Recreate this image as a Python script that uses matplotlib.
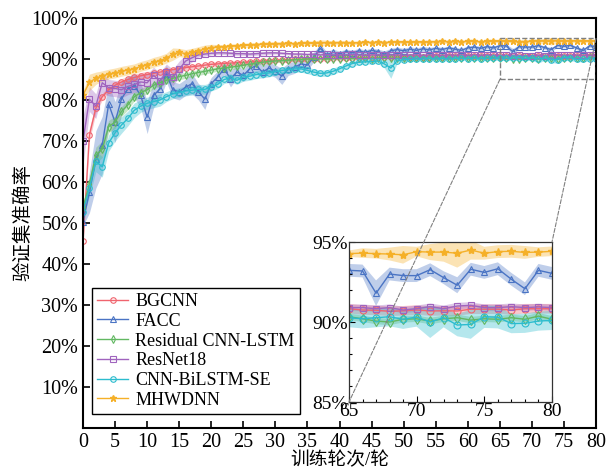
import numpy as np
import matplotlib
matplotlib.use('Agg')
import matplotlib.pyplot as plt
from matplotlib.patches import Rectangle, ConnectionPatch

plt.rcParams['font.family'] = ['Liberation Serif', 'Noto Sans CJK SC']
plt.rcParams['mathtext.fontset'] = 'stix'

epochs = np.arange(0, 81)

names = ['BGCNN', 'FACC', 'Residual CNN-LSTM', 'ResNet18', 'CNN-BiLSTM-SE', 'MHWDNN']

bgcnn = [45.5, 71.5, 78.0, 80.8, 82.5, 83.6, 84.4, 85.0, 85.5, 85.9,
         86.2, 86.5, 86.8, 87.1, 87.4, 87.6, 87.9, 88.1, 88.3, 88.5,
         88.7, 88.8, 88.9, 89.0, 89.1, 89.2, 89.3, 89.4, 89.5, 89.6,
         89.7, 89.7, 89.8, 89.9, 89.9, 90.0, 90.0, 90.1, 90.1, 90.2,
         90.2, 90.3, 90.3, 90.3, 90.4, 90.4, 90.4, 90.5, 90.5, 90.5,
         90.6, 90.5, 90.6, 90.6, 90.6, 90.7, 90.6, 90.7, 90.7, 90.7,
         90.7, 90.8, 90.7, 90.8, 90.8, 90.83, 90.75, 90.73, 90.67, 90.7,
         90.75, 90.69, 90.7, 90.69, 90.8, 90.8, 90.8, 90.75, 90.83, 90.83, 90.83]
bgcnn_sd = [1.0, 1.5, 1.2, 0.8, 0.8, 0.8, 0.8, 0.8, 0.8, 0.8,
            0.8, 0.5, 0.5, 0.5, 0.5, 0.5, 0.5, 0.5, 0.5, 0.5,
            0.5, 0.5, 0.5, 0.5, 0.5, 0.5, 0.5, 0.5, 0.5, 0.5,
            0.4, 0.4, 0.4, 0.4, 0.4, 0.3, 0.3, 0.3, 0.3, 0.3,
            0.3, 0.3, 0.3, 0.3, 0.3, 0.3, 0.3, 0.3, 0.3, 0.3,
            0.3, 0.3, 0.3, 0.3, 0.3, 0.3, 0.3, 0.3, 0.3, 0.3,
            0.3, 0.3, 0.3, 0.3, 0.3, 0.3, 0.3, 0.3, 0.3, 0.3,
            0.3, 0.3, 0.3, 0.3, 0.3, 0.3, 0.3, 0.3, 0.3, 0.3, 0.3]

facc = [50.3, 57.5, 65.5, 69.0, 79.0, 74.6, 80.3, 82.7, 83.5, 81.1,
        75.8, 81.1, 82.7, 86.4, 82.5, 82.0, 83.1, 84.0, 82.0, 80.2,
        84.0, 85.6, 87.6, 85.2, 86.8, 86.0, 87.6, 88.4, 86.8, 87.8,
        87.0, 85.8, 87.5, 88.0, 88.8, 88.5, 90.5, 92.6, 91.0, 91.6,
        91.3, 91.8, 91.5, 92.0, 91.6, 92.1, 91.8, 91.2, 92.0, 92.3,
        92.0, 92.4, 92.1, 92.5, 92.2, 92.6, 92.3, 92.7, 92.4, 92.1,
        92.7, 92.9, 92.6, 93.0, 92.7, 93.23, 93.19, 91.8, 93.0, 92.9,
        92.9, 93.27, 92.77, 92.3, 93.3, 93.1, 93.33, 92.67, 92.08, 93.23, 93.04]
facc_sd = [1.0, 5.0, 7.0, 7.0, 5.0, 5.0, 4.0, 3.0, 3.0, 3.0,
           4.0, 3.0, 2.5, 2.0, 2.0, 2.0, 2.0, 2.5, 2.0, 2.5,
           1.5, 1.5, 1.5, 2.0, 1.5, 1.5, 1.5, 1.5, 1.5, 1.5,
           1.5, 2.0, 1.5, 1.5, 1.2, 1.2, 1.2, 1.0, 0.8, 0.8,
           0.6, 0.6, 0.6, 0.6, 0.6, 0.6, 0.6, 0.8, 0.6, 0.6,
           0.6, 0.6, 0.6, 0.6, 0.6, 0.5, 0.5, 0.5, 0.5, 0.5,
           0.5, 0.5, 0.5, 0.5, 0.5, 0.4, 0.4, 0.8, 0.4, 0.4,
           0.4, 0.4, 0.4, 0.5, 0.4, 0.4, 0.4, 0.4, 0.4, 0.4, 0.4]

res_lstm = [53.8, 59.5, 66.5, 68.0, 73.5, 74.6, 77.2, 78.8, 80.8, 81.8,
            82.5, 83.6, 84.2, 84.8, 85.3, 85.7, 86.0, 86.4, 86.7, 87.0,
            87.3, 87.6, 87.8, 88.0, 88.2, 88.5, 88.7, 89.0, 89.2, 89.4,
            89.5, 89.6, 89.7, 89.8, 89.9, 90.0, 90.0, 90.1, 90.0, 90.1,
            90.1, 90.2, 90.1, 90.2, 90.2, 90.1, 90.2, 90.3, 90.2, 90.2,
            90.3, 90.2, 90.2, 90.3, 90.2, 90.3, 90.2, 90.3, 90.2, 90.3,
            90.2, 90.3, 90.2, 90.3, 90.3, 90.33, 90.2, 90.06, 90.0, 90.17,
            90.2, 90.06, 90.2, 90.27, 90.12, 90.2, 90.17, 90.27, 90.17, 90.37, 90.17]
res_lstm_sd = [1.2, 1.5, 2.0, 2.0, 1.5, 1.5, 1.2, 1.2, 1.0, 1.0,
               1.0, 0.8, 0.8, 0.8, 0.8, 0.8, 0.7, 0.7, 0.7, 0.7,
               0.6, 0.6, 0.6, 0.6, 0.6, 0.5, 0.5, 0.5, 0.5, 0.5,
               0.4, 0.4, 0.4, 0.4, 0.4, 0.3, 0.3, 0.3, 0.3, 0.3,
               0.3, 0.3, 0.3, 0.3, 0.3, 0.3, 0.3, 0.3, 0.3, 0.3,
               0.3, 0.3, 0.3, 0.3, 0.3, 0.3, 0.3, 0.3, 0.3, 0.3,
               0.3, 0.3, 0.3, 0.3, 0.3, 0.2, 0.2, 0.2, 0.2, 0.2,
               0.2, 0.2, 0.2, 0.2, 0.2, 0.2, 0.2, 0.2, 0.2, 0.2, 0.2]

resnet = [70.0, 80.2, 78.5, 84.2, 83.0, 82.8, 82.5, 83.3, 83.8, 84.4,
          84.2, 86.0, 84.6, 86.8, 85.5, 87.5, 89.5, 90.3, 91.0, 91.2,
          91.4, 91.5, 91.5, 91.4, 91.3, 91.3, 91.2, 91.3, 91.4, 91.5,
          91.5, 91.4, 91.3, 91.2, 91.2, 91.1, 91.2, 91.0, 91.1, 91.0,
          91.0, 91.0, 91.1, 91.0, 90.9, 91.0, 91.0, 90.9, 91.0, 91.0,
          90.9, 91.0, 91.0, 90.9, 91.0, 91.0, 90.9, 91.0, 90.9, 91.0,
          90.9, 91.0, 90.9, 91.0, 90.9, 90.9, 90.9, 90.83, 90.9, 90.75,
          90.83, 90.96, 90.83, 91.0, 91.04, 90.9, 90.9, 90.96, 90.9, 90.94, 90.9]
resnet_sd = [6.0, 3.0, 3.0, 2.5, 2.0, 2.0, 2.0, 2.0, 2.0, 2.0,
             2.0, 2.0, 2.0, 2.0, 2.0, 2.0, 1.5, 1.0, 0.5, 0.5,
             0.4, 0.4, 0.4, 0.4, 0.4, 0.4, 0.4, 0.4, 0.4, 0.4,
             0.3, 0.3, 0.3, 0.3, 0.3, 0.3, 0.3, 0.3, 0.3, 0.3,
             0.3, 0.3, 0.3, 0.3, 0.3, 0.3, 0.3, 0.3, 0.3, 0.3,
             0.3, 0.3, 0.3, 0.3, 0.3, 0.3, 0.3, 0.3, 0.3, 0.3,
             0.3, 0.3, 0.3, 0.3, 0.3, 0.2, 0.2, 0.2, 0.2, 0.2,
             0.2, 0.2, 0.2, 0.2, 0.2, 0.2, 0.2, 0.2, 0.2, 0.2, 0.2]

bilstm = [52.8, 58.5, 65.0, 63.7, 69.5, 72.0, 73.9, 75.5, 77.5, 78.5,
          79.2, 79.6, 80.0, 80.8, 81.5, 81.8, 82.2, 82.4, 82.6, 82.6,
          83.2, 83.8, 85.0, 85.4, 84.8, 85.6, 85.8, 86.2, 86.4, 86.6,
          86.9, 87.2, 87.4, 87.6, 87.6, 87.2, 86.8, 86.5, 86.6, 87.0,
          87.6, 88.3, 88.9, 89.2, 89.3, 89.4, 89.5, 88.8, 87.8, 89.6,
          89.8, 89.9, 90.0, 90.0, 90.1, 90.0, 90.1, 90.0, 90.1, 90.2,
          90.1, 90.2, 90.1, 90.2, 90.2, 90.27, 90.2, 90.27, 90.33, 90.17,
          90.31, 90.0, 90.27, 89.81, 89.85, 90.33, 90.3, 89.9, 89.92, 90.06, 90.1]
bilstm_sd = [1.5, 2.0, 2.5, 2.5, 2.0, 2.0, 2.0, 1.8, 1.8, 1.5,
             1.5, 1.5, 1.5, 1.2, 1.2, 1.2, 1.2, 1.2, 1.2, 1.2,
             1.0, 1.0, 1.0, 1.0, 1.0, 1.0, 1.0, 1.0, 1.0, 1.0,
             0.8, 0.8, 0.8, 0.8, 0.8, 0.8, 0.8, 0.8, 0.8, 0.8,
             0.7, 0.7, 0.7, 0.6, 0.6, 0.6, 0.6, 1.0, 2.5, 0.6,
             0.5, 0.5, 0.5, 0.5, 0.5, 0.5, 0.5, 0.5, 0.5, 0.5,
             0.5, 0.5, 0.5, 0.5, 0.5, 0.6, 0.6, 0.6, 0.6, 0.6,
             0.6, 1.0, 0.6, 0.7, 0.9, 0.7, 0.7, 0.6, 0.6, 0.6, 0.6]

mhwdnn = [81.2, 84.3, 85.3, 85.9, 86.3, 86.6, 87.0, 87.3, 87.6, 88.2,
          88.6, 89.2, 89.6, 90.2, 91.2, 91.6, 91.3, 91.6, 92.0, 92.4,
          92.8, 92.9, 93.0, 93.1, 93.2, 93.3, 93.4, 93.5, 93.6, 93.6,
          93.7, 93.7, 93.8, 93.7, 93.8, 93.9, 93.8, 93.9, 94.0, 93.9,
          94.0, 94.0, 93.9, 94.0, 94.1, 94.0, 94.1, 94.0, 94.1, 94.2,
          94.1, 94.1, 94.2, 94.1, 94.2, 94.2, 94.3, 94.2, 94.3, 94.2,
          94.3, 94.3, 94.2, 94.3, 94.3, 94.27, 94.31, 94.27, 94.25, 94.2,
          94.4, 94.37, 94.37, 94.3, 94.5, 94.3, 94.4, 94.42, 94.35, 94.37, 94.42]
mhwdnn_sd = [1.0, 2.0, 1.5, 1.2, 1.2, 1.2, 1.2, 1.2, 1.2, 1.2,
             1.2, 1.2, 1.2, 1.2, 1.5, 1.0, 1.0, 1.0, 1.0, 1.0,
             0.8, 0.6, 0.5, 0.5, 0.5, 0.5, 0.5, 0.5, 0.5, 0.5,
             0.5, 0.5, 0.5, 0.5, 0.5, 0.5, 0.5, 0.8, 0.6, 0.5,
             0.5, 0.4, 0.4, 0.4, 0.4, 0.4, 0.4, 0.4, 0.4, 0.4,
             0.4, 0.4, 0.4, 0.4, 0.4, 0.4, 0.5, 0.4, 0.4, 0.4,
             0.4, 0.4, 0.4, 0.4, 0.4, 0.2, 0.3, 0.3, 0.4, 0.55,
             0.3, 0.5, 0.6, 0.9, 0.6, 0.4, 0.4, 0.4, 0.4, 0.3, 0.3]

means = [bgcnn, facc, res_lstm, resnet, bilstm, mhwdnn]
spreads = [bgcnn_sd, facc_sd, res_lstm_sd, resnet_sd, bilstm_sd, mhwdnn_sd]
colors = ['#F0646E', '#4A74C4', '#62B862', '#A064BE', '#2CBCCE', '#F5B028']
markers = ['o', '^', 'd', 's', 'o', '*']

fig = plt.figure(figsize=(6.13, 4.71), dpi=100)
ax = fig.add_axes([0.1354, 0.0913, 0.8369, 0.8705])


def draw(a, ms=4.0, lw=1.0):
    for m, s, c, mk, lab in zip(means, spreads, colors, markers, names):
        m = np.array(m)
        s = np.array(s)
        a.fill_between(epochs, m - s, m + s, color=c, alpha=0.35, lw=0)
        if mk == '*':
            a.plot(epochs, m, color=c, marker=mk, ms=ms + 1, lw=lw, label=lab,
                   mec=c, mfc=c)
        else:
            a.plot(epochs, m, color=c, marker=mk, ms=ms, lw=lw, label=lab,
                   mfc='none', mec=c, mew=0.8)


draw(ax)
ax.set_xlim(0, 80)
ax.set_ylim(0, 100)
ax.set_xticks(np.arange(0, 81, 5))
ax.set_yticks(np.arange(10, 101, 10))
ax.set_yticklabels(['%d%%' % v for v in range(10, 101, 10)])
ax.tick_params(direction='in', length=5, width=1.2, labelsize=14.5)
for sp in ax.spines.values():
    sp.set_linewidth(1.5)
ax.set_xlabel('训练轮次/轮', fontsize=13.5, labelpad=0)
ax.set_ylabel('验证集准确率', fontsize=14)
ax.yaxis.set_label_coords(-0.098, 0.5)

leg = ax.legend(loc='lower left', bbox_to_anchor=(0.0175, 0.034), borderaxespad=0,
                fontsize=13, handlelength=1.7, labelspacing=0.15, borderpad=0.3,
                handletextpad=0.4, fancybox=False, edgecolor='black', framealpha=1)
leg.get_frame().set_linewidth(1.0)

# zoomed inset
axins = ax.inset_axes([0.5185, 0.0634, 0.3957, 0.3902])
draw(axins, ms=5, lw=1.0)
axins.set_xlim(65, 80)
axins.set_ylim(85, 95)
axins.set_xticks([65, 70, 75, 80])
axins.set_xticks(np.arange(65, 81, 1), minor=True)
axins.set_yticks([85, 90, 95])
axins.set_yticks(np.arange(85, 96, 1), minor=True)
axins.set_yticklabels(['85%', '90%', '95%'])
axins.tick_params(which='both', direction='in', labelsize=14, pad=1, width=0.8)
axins.tick_params(which='major', length=4)
axins.tick_params(which='minor', length=2.5)
for sp in axins.spines.values():
    sp.set_linewidth(0.9)
    sp.set_color('#333333')

ax.add_patch(Rectangle((65, 85), 15, 10, fill=False, ls='--', ec='gray', lw=1.0, zorder=5))
for pt in [(65, 85), (80, 95)]:
    con = ConnectionPatch(xyA=pt, coordsA=ax.transData, xyB=pt, coordsB=axins.transData,
                          ls='--', color='gray', lw=0.8)
    fig.add_artist(con)

fig.savefig('out.png', dpi=100)
